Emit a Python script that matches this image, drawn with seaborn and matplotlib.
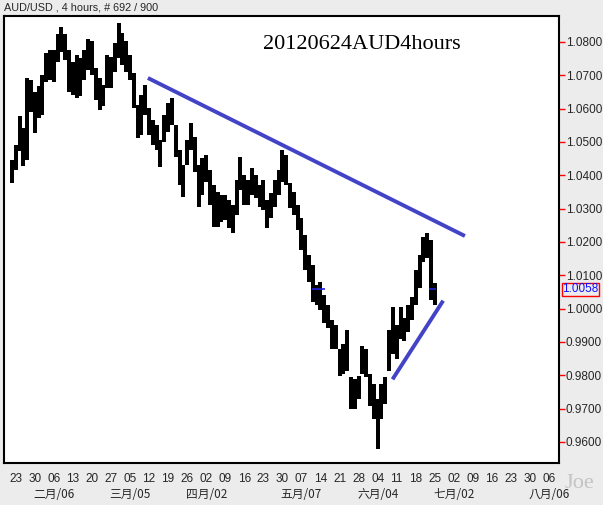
import matplotlib
matplotlib.use("Agg")
import numpy as np
import pandas as pd
import seaborn as sns
from matplotlib import pyplot as plt
from matplotlib.patches import Rectangle

# ---- data (trading-day positions, Mon 23 Jan = 0) ----
day = list(range(-1, 111))
high = [
    1.0445, 1.0490, 1.0577, 1.0541, 1.0691, 1.0685, 1.0649, 1.0667, 1.0700, 1.0766,
    1.0775, 1.0775, 1.0825, 1.0846, 1.0825, 1.0775, 1.0739, 1.0760, 1.0751, 1.0775,
    1.0810, 1.0804, 1.0721, 1.0691, 1.0670, 1.0760, 1.0754, 1.0796, 1.0858, 1.0828,
    1.0804, 1.0760, 1.0706, 1.0610, 1.0640, 1.0670, 1.0601, 1.0565, 1.0550, 1.0505,
    1.0580, 1.0616, 1.0631, 1.0550, 1.0476, 1.0431, 1.0505, 1.0556, 1.0514, 1.0431,
    1.0452, 1.0461, 1.0416, 1.0371, 1.0350, 1.0341, 1.0341, 1.0326, 1.0311, 1.0386,
    1.0455, 1.0401, 1.0386, 1.0422, 1.0401, 1.0371, 1.0386, 1.0326, 1.0347, 1.0386,
    1.0416, 1.0476, 1.0461, 1.0377, 1.0350, 1.0311, 1.0272, 1.0221, 1.0162, 1.0132,
    1.0072, 1.0081, 1.0042, 1.0012, 0.9967, 0.9952, 0.9878, 0.9893, 0.9937, 0.9794,
    0.9788, 0.9797, 0.9887, 0.9878, 0.9803, 0.9773, 0.9728, 0.9773, 0.9794, 0.9937,
    1.0006, 0.9952, 1.0006, 0.9973, 1.0012, 1.0036, 1.0117, 1.0162, 1.0216, 1.0227,
    1.0207, 1.0078,
]
low = [
    1.0377, 1.0416, 1.0472, 1.0427, 1.0445, 1.0589, 1.0526, 1.0571, 1.0580, 1.0679,
    1.0685, 1.0679, 1.0739, 1.0769, 1.0745, 1.0649, 1.0640, 1.0631, 1.0637, 1.0685,
    1.0715, 1.0700, 1.0625, 1.0595, 1.0607, 1.0661, 1.0661, 1.0709, 1.0751, 1.0730,
    1.0709, 1.0685, 1.0601, 1.0511, 1.0520, 1.0580, 1.0520, 1.0490, 1.0476, 1.0425,
    1.0499, 1.0529, 1.0550, 1.0455, 1.0371, 1.0335, 1.0431, 1.0476, 1.0410, 1.0305,
    1.0341, 1.0380, 1.0311, 1.0245, 1.0245, 1.0260, 1.0266, 1.0242, 1.0227, 1.0281,
    1.0356, 1.0311, 1.0311, 1.0341, 1.0332, 1.0305, 1.0296, 1.0242, 1.0272, 1.0305,
    1.0341, 1.0380, 1.0371, 1.0302, 1.0281, 1.0236, 1.0177, 1.0117, 1.0081, 1.0021,
    1.0012, 0.9997, 0.9958, 0.9943, 0.9878, 0.9878, 0.9797, 0.9803, 0.9812, 0.9698,
    0.9698, 0.9728, 0.9803, 0.9794, 0.9707, 0.9668, 0.9579, 0.9668, 0.9713, 0.9812,
    0.9863, 0.9848, 0.9908, 0.9902, 0.9931, 0.9967, 1.0012, 1.0063, 1.0141, 1.0153,
    1.0027, 1.0012,
]
last_price = 1.0058

upper_x = [34.7, 117.9]
upper_y = [1.0692, 1.0218]
lower_x = [98.9, 112.2]
lower_y = [0.9788, 1.0024]

week_pos = list(range(0, 145, 5))
week_labels = ["23", "30", "06", "13", "20", "27", "05", "12", "19", "26",
               "02", "09", "16", "23", "30", "07", "14", "21", "28", "04",
               "11", "18", "25", "02", "09", "16", "23", "30", "06"]
month_pos = [10, 30, 50, 75, 95, 115, 140]
month_labels = ["二月/06", "三月/05", "四月/02", "五月/07", "六月/04", "七月/02", "八月/06"]
price_ticks = [0.96, 0.97, 0.98, 0.99, 1.00, 1.01, 1.02, 1.03, 1.04, 1.05, 1.06, 1.07, 1.08]

bars = pd.DataFrame({"day": day, "high": high, "low": low})

sns.set_style("white")
plt.rcParams["font.family"] = ["Liberation Sans", "DejaVu Sans"]

W, H = 603, 505
fig = plt.figure(figsize=(W / 100, H / 100), dpi=100, facecolor="#ececec")
ax = fig.add_axes([4 / W, (H - 463) / H, 555 / W, 447 / H])
ax.set_facecolor("white")

# daily high-low ranges, drawn edge to edge so they form one dense band
ax.vlines(bars["day"], bars["low"], bars["high"], color="black", lw=2.8,
          antialiased=False)
ax.hlines(last_price, 108.6, 110.4, color="#2020dd", lw=1.2)
ax.hlines(last_price, 77.8, 81.2, color="#2020dd", lw=1.2)

trend = pd.DataFrame({"x": upper_x + lower_x, "y": upper_y + lower_y,
                      "line": ["up", "up", "low", "low"]})
sns.lineplot(data=trend, x="x", y="y", units="line", estimator=None,
             color="#4343c8", lw=2.8, ax=ax, solid_capstyle="butt")

ax.set_xlim(-3.07, 142.6)
ax.set_ylim(0.9537, 1.0878)
ax.set_xlabel("")
ax.set_ylabel("")

for s in ax.spines.values():
    s.set_color("black")
    s.set_linewidth(1.5)

ax.yaxis.tick_right()
ax.set_yticks(price_ticks)
ax.set_yticklabels([f"{v:.4f}" for v in price_ticks], fontsize=8.5)
ax.tick_params(axis="y", direction="out", length=4, width=1, color="red", pad=1)
ax.set_xticks(week_pos)
ax.set_xticklabels(week_labels, fontsize=8.5)
ax.tick_params(axis="x", direction="out", length=3, width=1, color="red", pad=4)

for p, lab in zip(month_pos, month_labels):
    ax.text(p, -0.07, lab, transform=ax.get_xaxis_transform(), ha="center", va="center",
            fontsize=8.5, family=["Noto Sans CJK TC", "DejaVu Sans"])

ax.text(0.645, 0.936, "20120624AUD4hours", transform=ax.transAxes, ha="center",
        va="center", fontsize=16, family=["Liberation Serif"], color="black")

fig.text(4 / W, 1 - 8 / H, "AUD/USD , 4 hours, # 692 / 900", ha="left", va="center",
         fontsize=7.8)
fig.text(579 / W, 1 - 484 / H, "Joe", ha="center", va="center", fontsize=16,
         family=["Liberation Serif"], color="#c4c4c4")

fig.text(580 / W, 1 - 289.5 / H, f"{last_price:.4f}", ha="center", va="center",
         fontsize=8.5, color="#1010ff")
fig.patches.append(Rectangle((562 / W, 1 - 296 / H), 37 / W, 13 / H, transform=fig.transFigure,
                             fill=False, edgecolor="red", lw=1))

fig.savefig("out.png", dpi=100, facecolor=fig.get_facecolor())
